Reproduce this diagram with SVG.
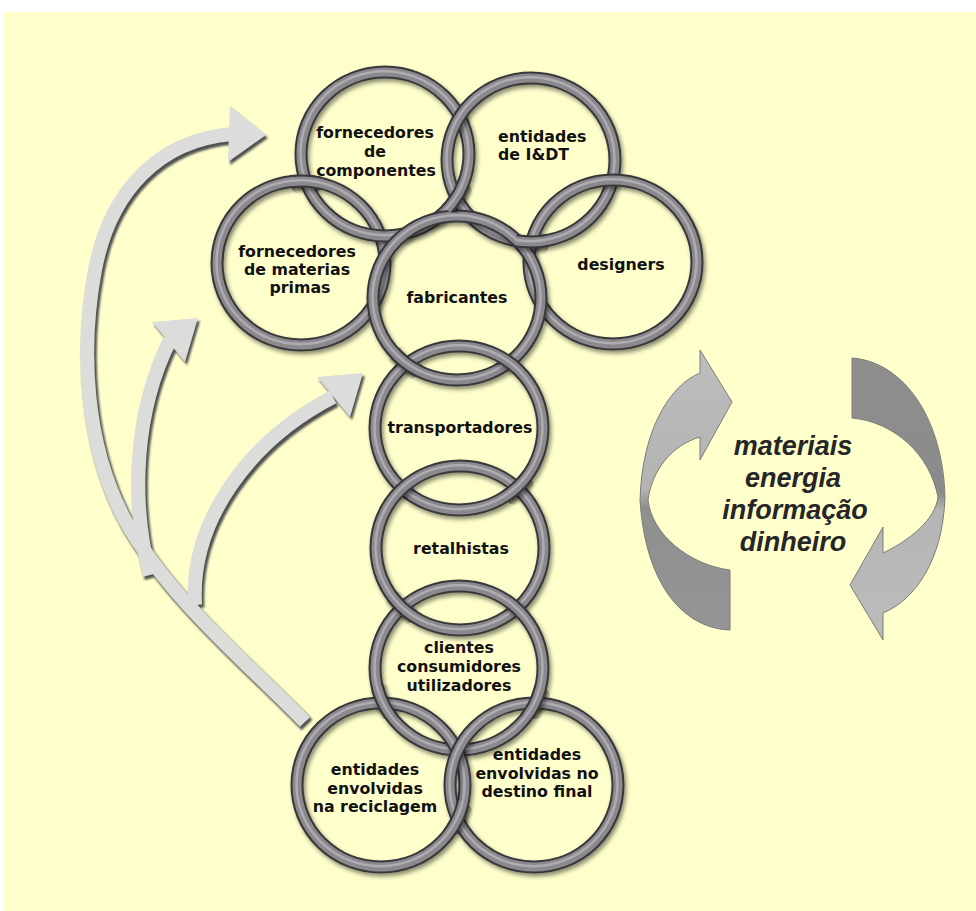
<svg xmlns="http://www.w3.org/2000/svg" width="976" height="911" viewBox="0 0 976 911">
  <defs>
    <style>
      .ring-edge { fill: none; stroke: #38373a; stroke-width: 13; }
      .ring-body { fill: none; stroke: #8b898e; stroke-width: 9; }
      .ring-hi { fill: none; stroke: #aeacb1; stroke-width: 2.5; }
      .lbl { font-family: "DejaVu Sans", Verdana, sans-serif; font-weight: bold; font-size: 15.8px; fill: #111111; text-anchor: middle; }
      .lbl-l { text-anchor: start; }
      .flow { font-family: "Liberation Sans", Arial, sans-serif; font-weight: bold; font-style: italic; font-size: 27px; fill: #262626; text-anchor: middle; }
      .shaft { fill: none; stroke: #dcdcda; stroke-width: 14; stroke-linecap: butt; }
      .shaft-sh { fill: none; stroke: #505050; stroke-width: 15; }
      .head { fill: #dcdcda; }
      .head-sh { fill: #505050; }
    </style>
    <filter id="ringShadow" x="-20%" y="-20%" width="140%" height="140%">
      <feDropShadow dx="2" dy="3" stdDeviation="2" flood-color="#000000" flood-opacity="0.45"/>
    </filter>
    <filter id="soft" x="-10%" y="-10%" width="120%" height="120%">
      <feGaussianBlur stdDeviation="1.2"/>
    </filter>
    <linearGradient id="cycleL" x1="0" y1="350" x2="0" y2="630" gradientUnits="userSpaceOnUse">
      <stop offset="0" stop-color="#bdbdbd"/>
      <stop offset="0.5" stop-color="#b3b3b3"/>
      <stop offset="0.56" stop-color="#8f8f8f"/>
      <stop offset="1" stop-color="#959595"/>
    </linearGradient>
    <linearGradient id="cycleR" x1="0" y1="358" x2="0" y2="640" gradientUnits="userSpaceOnUse">
      <stop offset="0" stop-color="#8e8e8e"/>
      <stop offset="0.48" stop-color="#8b8b8b"/>
      <stop offset="0.54" stop-color="#b5b5b5"/>
      <stop offset="1" stop-color="#bcbcbc"/>
    </linearGradient>
    <g id="ring">
      <ellipse class="ring-edge" cx="0" cy="0" rx="84" ry="82"/>
      <ellipse class="ring-body" cx="0" cy="0" rx="84" ry="82"/>
      <ellipse class="ring-hi" cx="-0.5" cy="-0.8" rx="84" ry="82"/>
    </g>
    <!-- small windows where an earlier ring passes back over a later one -->
    <clipPath id="x1"><circle cx="306" cy="180" r="17"/></clipPath>
    <clipPath id="x2"><circle cx="456" cy="196" r="17"/></clipPath>
    <clipPath id="x3"><circle cx="532" cy="243" r="17"/></clipPath>
    <clipPath id="x8"><circle cx="406" cy="363" r="17"/></clipPath>
    <clipPath id="x9"><circle cx="517" cy="488" r="17"/></clipPath>
    <clipPath id="x10"><circle cx="402" cy="608" r="17"/></clipPath>
    <clipPath id="x11"><circle cx="383" cy="702" r="17"/></clipPath>
    <clipPath id="x12"><circle cx="535" cy="702" r="17"/></clipPath>
    <clipPath id="x13"><circle cx="457" cy="817" r="17"/></clipPath>
  </defs>

  <!-- page -->
  <rect x="0" y="0" width="976" height="911" fill="#ffffff"/>
  <rect x="4" y="12" width="972" height="899" fill="#ffffcc"/>

  <!-- feedback arrows from recycling back to the supply side -->
  <g id="connectors">
    <g transform="translate(2 3)" filter="url(#soft)">
      <path class="shaft-sh" d="M 305 722 C 250 665 170 600 125 520 C 85 445 80 350 95 270 C 110 190 160 140 232 134"/>
      <path class="shaft-sh" d="M 150 575 C 130 500 135 410 170 340"/>
      <path class="shaft-sh" d="M 195 605 C 190 520 250 440 333 397"/>
      <polygon class="head-sh" points="230,106 266,135 228,162"/>
      <polygon class="head-sh" points="152,322 198,318 185,362"/>
      <polygon class="head-sh" points="317,377 363,373 350,417"/>
    </g>
    <path class="shaft" d="M 305 722 C 250 665 170 600 125 520 C 85 445 80 350 95 270 C 110 190 160 140 232 134"/>
    <path class="shaft" d="M 150 575 C 130 500 135 410 170 340"/>
    <path class="shaft" d="M 195 605 C 190 520 250 440 333 397"/>
    <polygon class="head" points="230,106 266,135 228,162"/>
    <polygon class="head" points="152,322 198,318 185,362"/>
    <polygon class="head" points="317,377 363,373 350,417"/>
  </g>

  <!-- flows cycle -->
  <g id="cycle">
    <path fill="url(#cycleL)" stroke="#7c7c7c" stroke-width="1" d="M 700 350 L 732 402 L 700 460 L 700 437 C 672 445 652 470 648 500 C 652 535 690 565 730 570 L 730 630 C 680 628 645 580 640 500 C 642 430 670 385 700 373 Z"/>
    <path fill="url(#cycleR)" stroke="#7c7c7c" stroke-width="1" d="M 852 358 C 905 362 943 420 945 497 C 943 560 915 600 883 613 L 883 640 L 850 585 L 883 527 L 883 553 C 910 540 935 520 938 497 C 930 455 895 422 852 418 Z"/>
    <text class="flow" x="793" y="455">materiais</text>
    <text class="flow" x="793" y="487">energia</text>
    <text class="flow" x="795" y="519">informação</text>
    <text class="flow" x="793" y="551">dinheiro</text>
  </g>

  <g id="n-materias">
    <use href="#ring" x="301" y="263" filter="url(#ringShadow)"/>
    <text class="lbl" x="297" y="257">fornecedores</text>
    <text class="lbl" x="297" y="275">de materias</text>
    <text class="lbl" x="300" y="293">primas</text>
  </g>
  <g id="n-componentes">
    <use href="#ring" x="385" y="154" filter="url(#ringShadow)"/>
    <text class="lbl" x="375" y="138">fornecedores</text>
    <text class="lbl" x="375" y="157">de</text>
    <text class="lbl" x="376" y="176">componentes</text>
  </g>
  <g id="n-idt">
    <use href="#ring" x="531" y="160" filter="url(#ringShadow)"/>
    <text class="lbl lbl-l" x="498" y="142">entidades</text>
    <text class="lbl lbl-l" x="498" y="160">de I&amp;DT</text>
  </g>
  <g id="n-designers">
    <use href="#ring" x="613" y="262" filter="url(#ringShadow)"/>
    <text class="lbl" x="621" y="270">designers</text>
  </g>
  <g id="n-fabricantes">
    <use href="#ring" x="457" y="298" filter="url(#ringShadow)"/>
    <text class="lbl" x="457" y="303">fabricantes</text>
  </g>
  <g id="n-transportadores">
    <use href="#ring" x="459" y="428" filter="url(#ringShadow)"/>
    <text class="lbl" x="460" y="433">transportadores</text>
  </g>
  <g id="n-retalhistas">
    <use href="#ring" x="460" y="548" filter="url(#ringShadow)"/>
    <text class="lbl" x="461" y="554">retalhistas</text>
  </g>
  <g id="n-clientes">
    <use href="#ring" x="459" y="668" filter="url(#ringShadow)"/>
    <text class="lbl" x="459" y="653">clientes</text>
    <text class="lbl" x="459" y="672">consumidores</text>
    <text class="lbl" x="459" y="691">utilizadores</text>
  </g>
  <g id="n-reciclagem">
    <use href="#ring" x="381" y="785" filter="url(#ringShadow)"/>
    <text class="lbl" x="375" y="775">entidades</text>
    <text class="lbl" x="375" y="794">envolvidas</text>
    <text class="lbl" x="375" y="812">na reciclagem</text>
  </g>
  <g id="n-destino">
    <use href="#ring" x="534" y="785" filter="url(#ringShadow)"/>
    <text class="lbl" x="537" y="760">entidades</text>
    <text class="lbl" x="537" y="779">envolvidas no</text>
    <text class="lbl" x="537" y="797">destino final</text>
  </g>

  <!-- interlocking: earlier rings brought back over at one crossing each -->
  <g id="interlock">
    <g clip-path="url(#x1)"><use href="#ring" x="301" y="263" filter="url(#ringShadow)"/></g>
    <g clip-path="url(#x2)"><use href="#ring" x="385" y="154" filter="url(#ringShadow)"/></g>
    <g clip-path="url(#x3)"><use href="#ring" x="531" y="160" filter="url(#ringShadow)"/></g>
    <g clip-path="url(#x8)"><use href="#ring" x="457" y="298" filter="url(#ringShadow)"/></g>
    <g clip-path="url(#x9)"><use href="#ring" x="459" y="428" filter="url(#ringShadow)"/></g>
    <g clip-path="url(#x10)"><use href="#ring" x="460" y="548" filter="url(#ringShadow)"/></g>
    <g clip-path="url(#x11)"><use href="#ring" x="459" y="668" filter="url(#ringShadow)"/></g>
    <g clip-path="url(#x12)"><use href="#ring" x="459" y="668" filter="url(#ringShadow)"/></g>
    <g clip-path="url(#x13)"><use href="#ring" x="381" y="785" filter="url(#ringShadow)"/></g>
  </g>
</svg>
